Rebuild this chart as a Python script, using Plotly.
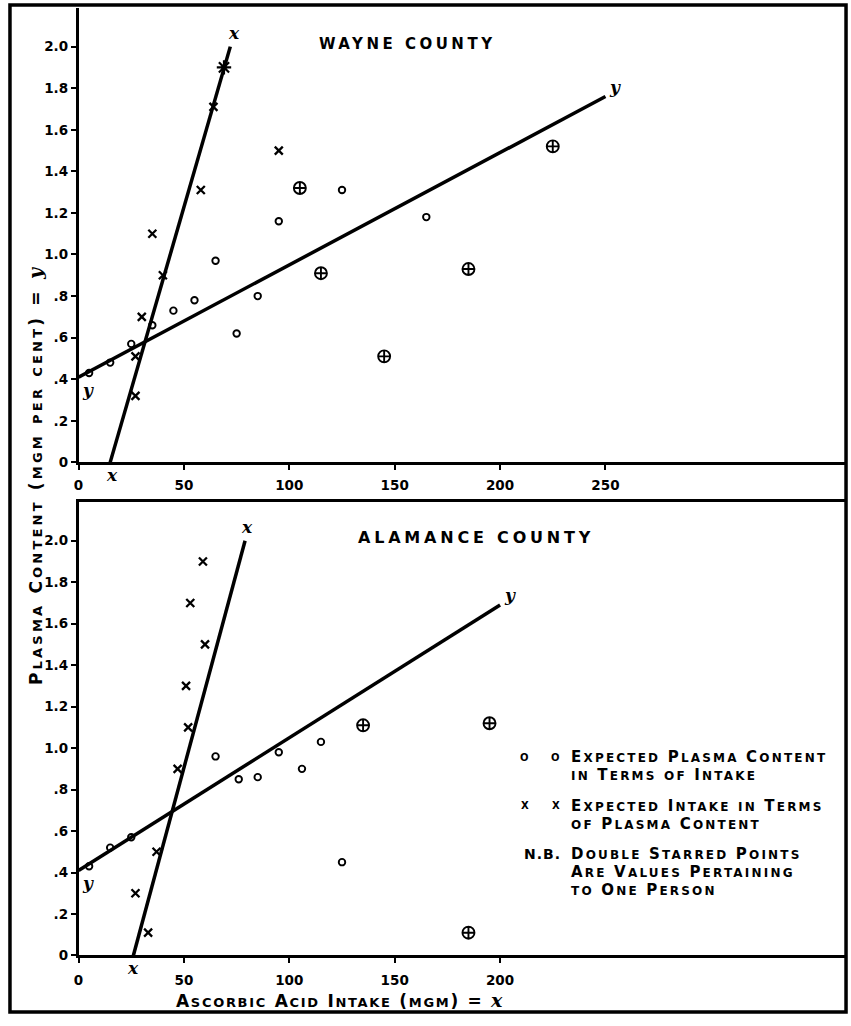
import plotly.graph_objects as go

W, H = 851, 1026

# ---------------- Wayne County ----------------
wayne_plasma_x = [5, 15, 25, 35, 45, 55, 65, 75, 85, 95, 125, 165]
wayne_plasma_y = [0.43, 0.48, 0.57, 0.66, 0.73, 0.78, 0.97, 0.62, 0.80, 1.16, 1.31, 1.18]
wayne_both_x = [105, 115, 145, 185, 225]
wayne_both_y = [1.32, 0.91, 0.51, 0.93, 1.52]
wayne_intake_x = [27, 27, 30, 35, 40, 58, 64, 95]
wayne_intake_y = [0.32, 0.51, 0.70, 1.10, 0.90, 1.31, 1.71, 1.50]
wayne_star_x = [69]
wayne_star_y = [1.90]
wayne_yline_x = [0, 250]
wayne_yline_y = [0.41, 1.76]
wayne_xline_x = [15, 72]
wayne_xline_y = [0, 2.0]

# ---------------- Alamance County ----------------
alamance_plasma_x = [5, 15, 25, 65, 76, 85, 95, 106, 115, 125]
alamance_plasma_y = [0.43, 0.52, 0.57, 0.96, 0.85, 0.86, 0.98, 0.90, 1.03, 0.45]
alamance_both_x = [135, 195, 185]
alamance_both_y = [1.11, 1.12, 0.11]
alamance_intake_x = [27, 33, 37, 47, 52, 51, 53, 60, 59]
alamance_intake_y = [0.30, 0.11, 0.50, 0.90, 1.10, 1.30, 1.70, 1.50, 1.90]
alamance_yline_x = [0, 200]
alamance_yline_y = [0.41, 1.69]
alamance_xline_x = [26, 79]
alamance_xline_y = [0, 2.0]

# ---------------- tick labels ----------------
y_tickvals = [0, 0.2, 0.4, 0.6, 0.8, 1.0, 1.2, 1.4, 1.6, 1.8, 2.0]
y_ticktext = ["0", ".2", ".4", ".6", ".8", "1.0", "1.2", "1.4", "1.6", "1.8", "2.0"]
top_x_tickvals = [0, 50, 100, 150, 200, 250]
bottom_x_tickvals = [0, 50, 100, 150, 200]

FONT = "DejaVu Sans"
SCRIPT = "DejaVu Serif"


def fx(p):
    return p / W


def fy(p):
    return 1 - p / H


def spaced(text, s=2):
    return f"<span style='letter-spacing:{s}px'>{text}</span>"


def smallcaps(text, big, small, ls):
    """Capitals at full size, lower-case letters as reduced capitals."""
    runs = []
    for ch in text:
        kind = "s" if ch.islower() else "b"
        if runs and runs[-1][0] == kind:
            runs[-1][1] += ch
        else:
            runs.append([kind, ch])
    out = []
    for kind, chunk in runs:
        size = small if kind == "s" else big
        out.append(f"<span style='font-size:{size}px;letter-spacing:{ls}px'>{chunk.upper()}</span>")
    return "".join(out)


def script_letter(ch, size):
    return (f"<span style='font-family:{SCRIPT};font-style:italic;font-size:{size}px'>"
            f"{ch}</span>")


fig = go.Figure()


def add_panel(xa, ya, yl_x, yl_y, xl_x, xl_y, px_, py_, bx, by, ix, iy, sx=None, sy=None):
    line = dict(color="black", width=3.5)
    fig.add_trace(go.Scatter(x=yl_x, y=yl_y, mode="lines", line=line, xaxis=xa, yaxis=ya))
    fig.add_trace(go.Scatter(x=xl_x, y=xl_y, mode="lines", line=line, xaxis=xa, yaxis=ya))
    fig.add_trace(go.Scatter(x=px_, y=py_, mode="markers", xaxis=xa, yaxis=ya,
                             marker=dict(symbol="circle-open", size=6.5, color="black",
                                         line=dict(width=1.9, color="black"))))
    fig.add_trace(go.Scatter(x=bx, y=by, mode="markers", xaxis=xa, yaxis=ya,
                             marker=dict(symbol="circle-cross-open", size=12, color="black",
                                         line=dict(width=1.9, color="black"))))
    fig.add_trace(go.Scatter(x=ix, y=iy, mode="markers", xaxis=xa, yaxis=ya,
                             marker=dict(symbol="x-thin-open", size=8, color="black",
                                         line=dict(width=2.3, color="black"))))
    if sx:
        fig.add_trace(go.Scatter(x=sx, y=sy, mode="markers", xaxis=xa, yaxis=ya,
                                 marker=dict(symbol="asterisk-open", size=12, color="black",
                                             line=dict(width=2.2, color="black"))))


add_panel("x", "y", wayne_yline_x, wayne_yline_y, wayne_xline_x, wayne_xline_y,
          wayne_plasma_x, wayne_plasma_y, wayne_both_x, wayne_both_y,
          wayne_intake_x, wayne_intake_y, wayne_star_x, wayne_star_y)
add_panel("x2", "y2", alamance_yline_x, alamance_yline_y, alamance_xline_x, alamance_xline_y,
          alamance_plasma_x, alamance_plasma_y, alamance_both_x, alamance_both_y,
          alamance_intake_x, alamance_intake_y)

x_max = (846 - 74) / 2.12
top_y_max = (466 - 8) / 209.5
bot_y_max = (963 - 506) / 209.0

axis_common = dict(showline=True, linecolor="black", linewidth=2.5, ticks="outside",
                   ticklen=5, tickwidth=2, tickcolor="black", showgrid=False, zeroline=False,
                   tickfont=dict(family=FONT, size=13.5, color="black", weight="bold"))

fig.update_layout(
    width=W, height=H, margin=dict(l=0, r=0, t=0, b=0),
    paper_bgcolor="white", plot_bgcolor="white", showlegend=False,
    xaxis=dict(domain=[fx(74), fx(846)], range=[0, x_max], anchor="y",
               tickvals=top_x_tickvals, ticklabelstandoff=4, **axis_common),
    yaxis=dict(domain=[fy(466), fy(8)], range=[0, top_y_max], anchor="x",
               tickvals=y_tickvals, ticktext=y_ticktext, **axis_common),
    xaxis2=dict(domain=[fx(74), fx(846)], range=[0, x_max], anchor="y2", mirror=True,
                tickvals=bottom_x_tickvals, ticklabelstandoff=6, **axis_common),
    yaxis2=dict(domain=[fy(963), fy(506)], range=[0, bot_y_max], anchor="x2",
                tickvals=y_tickvals, ticktext=y_ticktext, **axis_common),
)

# outer frame
fig.add_shape(type="rect", xref="paper", yref="paper",
              x0=fx(5), x1=fx(846), y0=fy(1020), y1=fy(5),
              line=dict(color="black", width=3.5))

annotations = []


def note(text, x, y, size=14, xanchor="center", yanchor="middle", angle=0, family=FONT,
         xref="paper", yref="paper", xshift=0, yshift=0):
    annotations.append(dict(text=text, x=x, y=y, xref=xref, yref=yref, showarrow=False,
                            xanchor=xanchor, yanchor=yanchor, textangle=angle,
                            xshift=xshift, yshift=yshift,
                            font=dict(family=family, size=size, color="black",
                                      weight="bold")))


# panel titles
note(spaced("WAYNE COUNTY", 3.5), fx(405), fy(44), size=15)
note(spaced("ALAMANCE COUNTY", 3.8), fx(474), fy(542), size=16)

# axis titles
note(smallcaps("Plasma Content (mgm per cent) = ", 17, 13, 3.2) + script_letter("y", 19),
     fx(30), fy(479), size=17, angle=-90)
note(smallcaps("Ascorbic Acid Intake (mgm) = ", 17, 13, 1.7) + script_letter("x", 19),
     fx(336), fy(1008), size=17)


# regression line end labels
def line_label(t, x, y, xref, yref, xanchor, yanchor, xshift=0, yshift=0):
    note(f"<i>{t}</i>", x, y, size=17, family=SCRIPT,
         xref=xref, yref=yref, xanchor=xanchor, yanchor=yanchor, xshift=xshift, yshift=yshift)


line_label("x", wayne_xline_x[1], wayne_xline_y[1], "x", "y", "center", "bottom", 4, 2)
line_label("x", wayne_xline_x[0], wayne_xline_y[0], "x", "y", "center", "top", 2, -1)
line_label("y", wayne_yline_x[0], wayne_yline_y[0], "x", "y", "left", "top", 1, -1)
line_label("y", wayne_yline_x[1], wayne_yline_y[1], "x", "y", "left", "bottom", 2, -2)
line_label("x", alamance_xline_x[1], alamance_xline_y[1], "x2", "y2", "center", "bottom", 2, 2)
line_label("x", alamance_xline_x[0], alamance_xline_y[0], "x2", "y2", "center", "top", 0, -1)
line_label("y", alamance_yline_x[0], alamance_yline_y[0], "x2", "y2", "left", "top", 1, -1)
line_label("y", alamance_yline_x[1], alamance_yline_y[1], "x2", "y2", "left", "bottom", 2, -2)

# key
key_lines = [
    ("o", 763, "Expected Plasma Content"),
    (None, 781, "in Terms of Intake"),
    ("x", 812, "Expected Intake in Terms"),
    (None, 830, "of Plasma Content"),
    ("N.B.", 861, "Double Starred Points"),
    (None, 879, "Are Values Pertaining"),
    (None, 897, "to One Person"),
]
for sym, yy, txt in key_lines:
    note(smallcaps(txt, 15, 12, 2.2), fx(567), fy(yy), size=15, xanchor="left")
    if sym == "N.B.":
        note(spaced("N.B.", 1), fx(520), fy(yy), size=14, xanchor="left")
    elif sym:
        note(sym.upper(), fx(523), fy(yy), size=10)
        note(sym.upper(), fx(554), fy(yy), size=10)

fig.update_layout(annotations=annotations)
fig.write_html("out.html")
